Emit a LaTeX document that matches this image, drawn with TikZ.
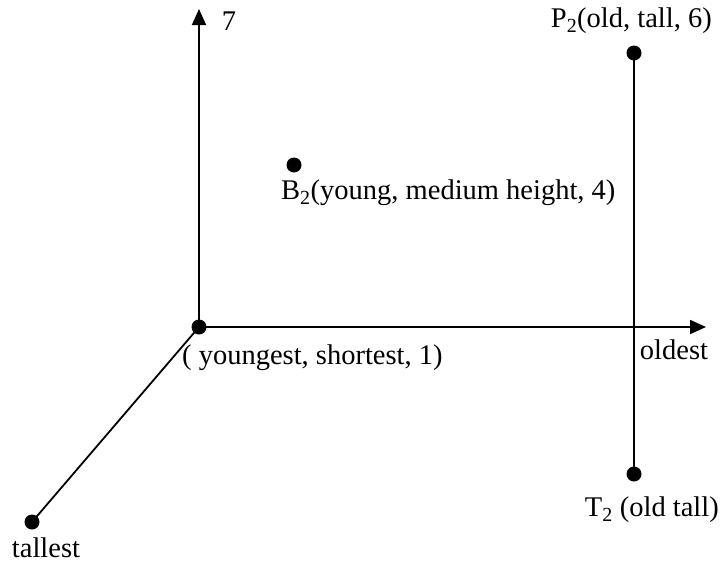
\documentclass[tikz,border=0pt]{standalone}
\usepackage{fontspec}
\setmainfont{Liberation Serif}
\usetikzlibrary{arrows.meta}

\begin{document}
\begin{tikzpicture}[x=1pt,y=-1pt,
    dot/.style={circle,fill,inner sep=0pt,minimum size=15pt},
    lbl/.style={inner sep=0pt,font=\fontsize{28.5}{33}\selectfont},
    axis/.style={line width=1.8pt,-{Triangle[length=16pt,width=14pt]}}]
    \useasboundingbox (0,0) rectangle (724,563);
    % Punkte:
    \node[dot] (origin) at (199,327) {}; % Ursprung
    \node[dot] (tallest) at (32,522) {}; % tallest
    \node[dot] (b2) at (294,165) {}; % B2
    \node[dot] (p2) at (634,53) {}; % P2
    \node[dot] (t2) at (634,474) {}; % T2
    % Achsenenden:
    \coordinate (ytop) at (199,9);
    \coordinate (xend) at (706,327);
    % Achsen:
    \draw[axis] (origin.center) -- (ytop); % senkrechte Achse
    \draw[axis] (origin.center) -- (xend); % waagrechte Achse
    \draw[line width=1.8pt] (origin.center) -- (tallest.center); % schraege Achse
    \draw[line width=1.8pt] (p2.center) -- (t2.center); % P2 bis T2
    % Beschriftungen:
    \node[lbl] (seven) at (229,21) {7};
    \node[lbl,anchor=west] (originlbl) at (182,358) {( youngest, shortest, 1)};
    \node[lbl] (oldest) at (674,350) {oldest};
    \node[lbl] (tallestlbl) at (46,548) {tallest};
    \node[lbl,anchor=west] (b2lbl) at (281,193) {B\textsubscript{2}(young, medium height, 4)};
    \node[lbl,anchor=east] (p2lbl) at (712,21) {P\textsubscript{2}(old, tall, 6)};
    \node[lbl,anchor=east] (t2lbl) at (719,510) {T\textsubscript{2} (old tall)};
\end{tikzpicture}
\end{document}
